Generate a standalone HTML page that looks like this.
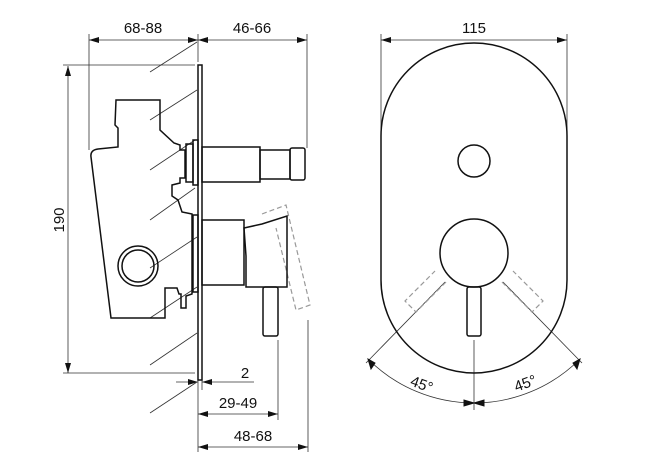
<!DOCTYPE html>
<html><head><meta charset="utf-8"><style>html,body{margin:0;padding:0;background:#fff}svg{display:block}</style></head><body>
<svg width="670" height="460" viewBox="0 0 670 460" xmlns="http://www.w3.org/2000/svg" font-family="Liberation Sans, sans-serif" font-size="15" fill="none" stroke="#111">
<defs>
<marker id="a" viewBox="0 0 10 6" refX="10" refY="3" markerWidth="10" markerHeight="6" orient="auto-start-reverse" markerUnits="userSpaceOnUse"><path d="M0,0L10,3L0,6z" fill="#111" stroke="none"/></marker>
</defs>
<g stroke-width="0.8" stroke="#333">
<line x1="89" y1="34" x2="89" y2="150"/><line x1="198" y1="34" x2="198" y2="62"/><line x1="307" y1="34" x2="307" y2="148"/>
<line x1="89" y1="40" x2="198" y2="40" marker-start="url(#a)" marker-end="url(#a)"/>
<line x1="198" y1="40" x2="307" y2="40" marker-start="url(#a)" marker-end="url(#a)"/>
<line x1="63" y1="65" x2="195" y2="65"/><line x1="63" y1="373" x2="195" y2="373"/>
<line x1="68" y1="66" x2="68" y2="373" marker-start="url(#a)" marker-end="url(#a)"/>
<line x1="198" y1="380" x2="198" y2="452"/><line x1="202" y1="380" x2="202" y2="390"/>
<line x1="176" y1="382" x2="198" y2="382" marker-end="url(#a)"/><line x1="225" y1="382" x2="202" y2="382" marker-end="url(#a)"/><line x1="225" y1="382" x2="254" y2="382"/>
<line x1="278" y1="340" x2="278" y2="420"/><line x1="308" y1="320" x2="308" y2="452"/>
<line x1="198" y1="414" x2="278" y2="414" marker-start="url(#a)" marker-end="url(#a)"/>
<line x1="198" y1="447" x2="308" y2="447" marker-start="url(#a)" marker-end="url(#a)"/>
<line x1="150" y1="72" x2="197" y2="42"/><line x1="150" y1="120" x2="197" y2="90"/><line x1="150" y1="170" x2="195" y2="140"/><line x1="150" y1="220" x2="195" y2="188"/>
<line x1="150" y1="268" x2="197" y2="237"/><line x1="150" y1="318" x2="197" y2="287"/><line x1="150" y1="365" x2="197" y2="333"/><line x1="150" y1="413" x2="197" y2="382"/>
<line x1="381" y1="34" x2="381" y2="150"/><line x1="567" y1="34" x2="567" y2="150"/>
<line x1="381" y1="40" x2="567" y2="40" marker-start="url(#a)" marker-end="url(#a)"/>
<line x1="474" y1="340" x2="474" y2="410"/>
<line x1="445" y1="282" x2="366" y2="363"/><line x1="503" y1="282" x2="582" y2="363"/>
<path d="M368,359 A150,150 0 0,0 474,403 A150,150 0 0,0 580,359"/>
</g>
<g stroke="#111" stroke-width="1" fill="#111">
<path d="M368,359 l3,10 l4,-6z"/><path d="M580,359 l-3,10 l-4,-6z"/>
<path d="M474,403 l-10,-3 v6z"/><path d="M474,403 l10,-3 v6z"/>
</g>
<g stroke="#999" stroke-width="1.2" stroke-dasharray="5,3">
<path d="M446,282 L416,312 L405,301 L435,271"/>
<path d="M502,282 L532,312 L543,301 L513,271"/>
<path d="M262,214 L286,205 L310,305 L296,310 L276,228"/>
</g>
<g stroke-width="1.5">
<rect x="198" y="65" width="4" height="315"/>
<path d="M116,100 H160 V130 L174,143 L180,145 V150 H185 V178 H180 V183 L172,185 L172,196 L178,200 L182,212 L192,214 V294 L186,296 V308 H181 V294 H179 L177,288 H165 V318 H111 L91,157 Q90,150 98,149 L118,147 V128 L115,125 Z"/>
<circle cx="138" cy="266" r="20"/><circle cx="138" cy="266" r="16"/>
<rect x="193" y="140" width="5" height="45"/><rect x="186" y="144" width="7" height="38"/>
<rect x="202" y="147" width="58" height="35"/><rect x="260" y="150" width="30" height="29"/><rect x="290" y="148" width="15" height="32" rx="2"/>
<rect x="193" y="215" width="5" height="77"/>
<rect x="202" y="220" width="42" height="65"/>
<path d="M244,228 L262,224 L287,216 V287 H246 V256 Z"/>
<rect x="263" y="287" width="15" height="49" rx="2"/>
</g>
<g stroke-width="1.5">
<rect x="381" y="43" width="186" height="330" rx="93"/>
<circle cx="474" cy="161" r="16"/>
<circle cx="474" cy="253" r="34"/>
<rect x="467" y="287" width="14" height="49" rx="2"/>
</g>
<g fill="#111" stroke="none">
<text x="143" y="33" text-anchor="middle">68-88</text>
<text x="252" y="33" text-anchor="middle">46-66</text>
<text x="474" y="33" text-anchor="middle">115</text>
<text transform="translate(64,220) rotate(-90)" text-anchor="middle">190</text>
<text x="245" y="378" text-anchor="middle">2</text>
<text x="238" y="408" text-anchor="middle">29-49</text>
<text x="253" y="441" text-anchor="middle">48-68</text>
<text transform="translate(420,389) rotate(20)" text-anchor="middle">45°</text>
<text transform="translate(527,388) rotate(-20)" text-anchor="middle">45°</text>
</g>
</svg>
</body></html>
